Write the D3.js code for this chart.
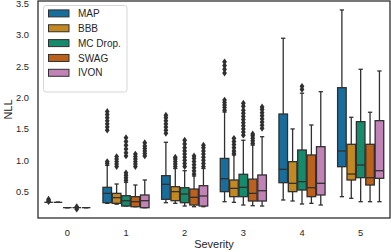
<!DOCTYPE html>
<html>
<head>
<meta charset="utf-8">
<script src="https://cdn.jsdelivr.net/npm/d3@7"></script>
<style>
  body { margin: 0; background: #fff; }
  text { font-family: "Liberation Sans", Arial, sans-serif; fill: #262626; }
</style>
</head>
<body>
<svg id="chart" width="391" height="252"></svg>
<script>
const severities = ["0", "1", "2", "3", "4", "5"];
const methods = ["MAP", "BBB", "MC Drop.", "SWAG", "IVON"];
const methodColors = ["#176d9c", "#c38820", "#158b6b", "#bb611b", "#c183b5"];
const yTicks = [0.5, 1.0, 1.5, 2.0, 2.5, 3.0, 3.5];

// per severity: [whisker low, q1, median, q3, whisker high]
const mapBoxes = [
  [0.33, 0.33, 0.33, 0.33, 0.33],
  [0.314, 0.324, 0.473, 0.569, 0.92],
  [0.324, 0.378, 0.617, 0.755, 1.287],
  [0.34, 0.50, 0.707, 1.03, 1.77],
  [0.367, 0.643, 0.856, 1.738, 2.946],
  [0.42, 0.898, 1.148, 2.158, 3.397],
];
const bbbBoxes = [
  [0.33, 0.33, 0.33, 0.33, 0.33],
  [0.30, 0.314, 0.404, 0.473, 0.622],
  [0.314, 0.356, 0.50, 0.579, 0.87],
  [0.33, 0.42, 0.553, 0.686, 1.085],
  [0.351, 0.50, 0.633, 0.978, 1.50],
  [0.394, 0.686, 0.781, 1.255, 1.686],
];
const mcBoxes = [
  [0.245, 0.245, 0.245, 0.245, 0.245],
  [0.271, 0.271, 0.356, 0.436, 0.65],
  [0.271, 0.324, 0.463, 0.563, 0.834],
  [0.287, 0.42, 0.569, 0.777, 1.32],
  [0.303, 0.526, 0.659, 1.164, 2.07],
  [0.34, 0.723, 0.925, 1.616, 2.451],
];
const swagBoxes = [
  [0.245, 0.245, 0.245, 0.245, 0.245],
  [0.26, 0.26, 0.34, 0.42, 0.606],
  [0.26, 0.287, 0.41, 0.542, 0.75],
  [0.276, 0.351, 0.473, 0.70, 1.244],
  [0.314, 0.42, 0.563, 1.085, 1.563],
  [0.34, 0.606, 0.723, 1.255, 1.766],
];
const ivonBoxes = [
  [0.245, 0.245, 0.245, 0.245, 0.245],
  [0.244, 0.244, 0.356, 0.447, 0.686],
  [0.26, 0.271, 0.431, 0.595, 0.87],
  [0.271, 0.351, 0.515, 0.766, 1.376],
  [0.287, 0.447, 0.633, 1.217, 2.094],
  [0.34, 0.713, 0.834, 1.632, 2.424],
];

// outliers per severity
const mapFliers = [
  [0.34, 0.36, 0.38],
  [0.95, 0.98, 1.48, 1.53, 1.58, 1.63, 1.68, 1.73, 1.78],
  [1.43, 1.48, 1.53, 1.58, 1.63, 1.68, 1.72],
  [1.80, 1.84, 1.88, 1.92, 1.96, 2.39, 2.45, 2.51, 2.57],
  [],
  [],
];
const bbbFliers = [
  [],
  [0.90, 0.94, 0.98, 1.02, 1.06],
  [0.90, 0.94, 0.98, 1.02, 1.05],
  [1.11, 1.15, 1.20, 1.25, 1.30, 1.35],
  [],
  [],
];
const mcFliers = [
  [],
  [0.68, 0.72, 0.76, 0.80, 1.07, 1.12, 1.18, 1.24, 1.30, 1.36],
  [0.90, 0.95, 1.00, 1.05, 1.10, 1.15, 1.20, 1.26, 1.32],
  [1.40, 1.45, 1.50, 1.55, 1.60, 1.65, 1.70, 1.75, 1.80, 1.86, 1.91],
  [2.13, 2.18],
  [],
];
const swagFliers = [
  [0.22, 0.26],
  [0.90, 0.94, 0.98, 1.02, 1.06, 1.10],
  [0.78, 0.83, 0.88, 0.93, 0.98, 1.03, 1.07],
  [1.27, 1.31, 1.35, 1.39, 1.42],
  [],
  [],
];
const ivonFliers = [
  [],
  [1.07, 1.11, 1.15, 1.19, 1.23, 1.28],
  [0.90, 0.95, 1.00, 1.05, 1.10, 1.15, 1.20, 1.24],
  [1.51, 1.56, 1.61, 1.66, 1.71, 1.76, 1.81, 1.85],
  [],
  [],
];

const allBoxes = [mapBoxes, bbbBoxes, mcBoxes, swagBoxes, ivonBoxes];
const allFliers = [mapFliers, bbbFliers, mcFliers, swagFliers, ivonFliers];

const rows = [];
methods.forEach((m, mi) => {
  severities.forEach((s, si) => {
    const [lo, q1, med, q3, hi] = allBoxes[mi][si];
    rows.push({ method: m, severity: s, lo, q1, med, q3, hi, fliers: allFliers[mi][si] });
  });
});

const width = 391, height = 252;
const margin = { top: 1, right: 1, bottom: 34, left: 38 };
const edge = "#303030";

const svg = d3.select("#chart");

const x = d3.scaleBand()
  .domain(severities)
  .range([margin.left, width - margin.right]);
const xInner = d3.scaleBand()
  .domain(methods)
  .range([0.1 * x.bandwidth(), 0.9 * x.bandwidth()]);
const y = d3.scaleLinear()
  .domain([0.08, 3.54])
  .range([height - margin.bottom, margin.top]);
const color = d3.scaleOrdinal().domain(methods).range(methodColors);

// axes
svg.append("g")
  .attr("transform", `translate(0,${height - margin.bottom})`)
  .call(d3.axisBottom(x).tickSize(0).tickPadding(11))
  .call(g => g.select(".domain").remove())
  .call(g => g.selectAll("text").attr("font-size", 9.3).attr("fill", "#262626"));

svg.append("g")
  .attr("transform", `translate(${margin.left},0)`)
  .call(d3.axisLeft(y).tickValues(yTicks).tickFormat(d3.format(".1f")).tickSize(0).tickPadding(9))
  .call(g => g.select(".domain").remove())
  .call(g => g.selectAll("text").attr("font-size", 9.3).attr("fill", "#262626"));

const bw = xInner.bandwidth() - 0.8;
const boxes = svg.append("g")
  .selectAll("g")
  .data(rows)
  .join("g")
  .attr("transform", d => `translate(${x(d.severity) + xInner(d.method) + 0.4},0)`);

// whiskers
boxes.append("line")
  .attr("x1", bw / 2).attr("x2", bw / 2)
  .attr("y1", d => y(d.q3)).attr("y2", d => y(d.hi))
  .attr("stroke", edge).attr("stroke-width", 1.3);
boxes.append("line")
  .attr("x1", bw / 2).attr("x2", bw / 2)
  .attr("y1", d => y(d.q1)).attr("y2", d => y(d.lo))
  .attr("stroke", edge).attr("stroke-width", 1.3);
// caps
boxes.selectAll("line.cap")
  .data(d => [d.lo, d.hi])
  .join("line")
  .attr("class", "cap")
  .attr("x1", bw / 4).attr("x2", bw * 3 / 4)
  .attr("y1", v => y(v)).attr("y2", v => y(v))
  .attr("stroke", edge).attr("stroke-width", 1.3);
// box
boxes.append("rect")
  .attr("y", d => y(d.q3))
  .attr("width", bw)
  .attr("height", d => y(d.q1) - y(d.q3))
  .attr("fill", d => color(d.method))
  .attr("stroke", edge).attr("stroke-width", 1.3);
// median
boxes.append("line")
  .attr("x1", 0).attr("x2", bw)
  .attr("y1", d => y(d.med)).attr("y2", d => y(d.med))
  .attr("stroke", edge).attr("stroke-width", 1.3);
// fliers
boxes.selectAll("path.flier")
  .data(d => d.fliers)
  .join("path")
  .attr("class", "flier")
  .attr("d", "M0,-3.4L2.4,0L0,3.4L-2.4,0Z")
  .attr("transform", v => `translate(${bw / 2},${y(v)})`)
  .attr("fill", edge);

// frame
svg.append("rect")
  .attr("x", margin.left)
  .attr("y", margin.top)
  .attr("width", width - margin.left - margin.right)
  .attr("height", height - margin.top - margin.bottom)
  .attr("fill", "none")
  .attr("stroke", "#262626")
  .attr("stroke-width", 1.25);

// axis labels
svg.append("text")
  .attr("x", (margin.left + width - margin.right) / 2)
  .attr("y", 248)
  .attr("text-anchor", "middle")
  .attr("font-size", 11)
  .text("Severity");
svg.append("text")
  .attr("transform", `translate(12,${(margin.top + height - margin.bottom) / 2}) rotate(-90)`)
  .attr("text-anchor", "middle")
  .attr("font-size", 11)
  .text("NLL");

// legend
const legend = svg.append("g");
legend.append("rect")
  .attr("x", 43.5).attr("y", 5.5)
  .attr("width", 83.5).attr("height", 86.5)
  .attr("rx", 2.5)
  .attr("fill", "#fff").attr("fill-opacity", 0.8)
  .attr("stroke", "#d6d6d6").attr("stroke-width", 1);
const items = legend.selectAll("g.item")
  .data(methods)
  .join("g")
  .attr("class", "item")
  .attr("transform", (d, i) => `translate(0,${13.4 + i * 14.85})`);
items.append("rect")
  .attr("x", 48.5).attr("y", -3.5)
  .attr("width", 20.5).attr("height", 7)
  .attr("fill", d => color(d))
  .attr("stroke", edge).attr("stroke-width", 1);
items.append("text")
  .attr("x", 78).attr("y", 3.6)
  .attr("font-size", 10)
  .text(d => d);
</script>
</body>
</html>
